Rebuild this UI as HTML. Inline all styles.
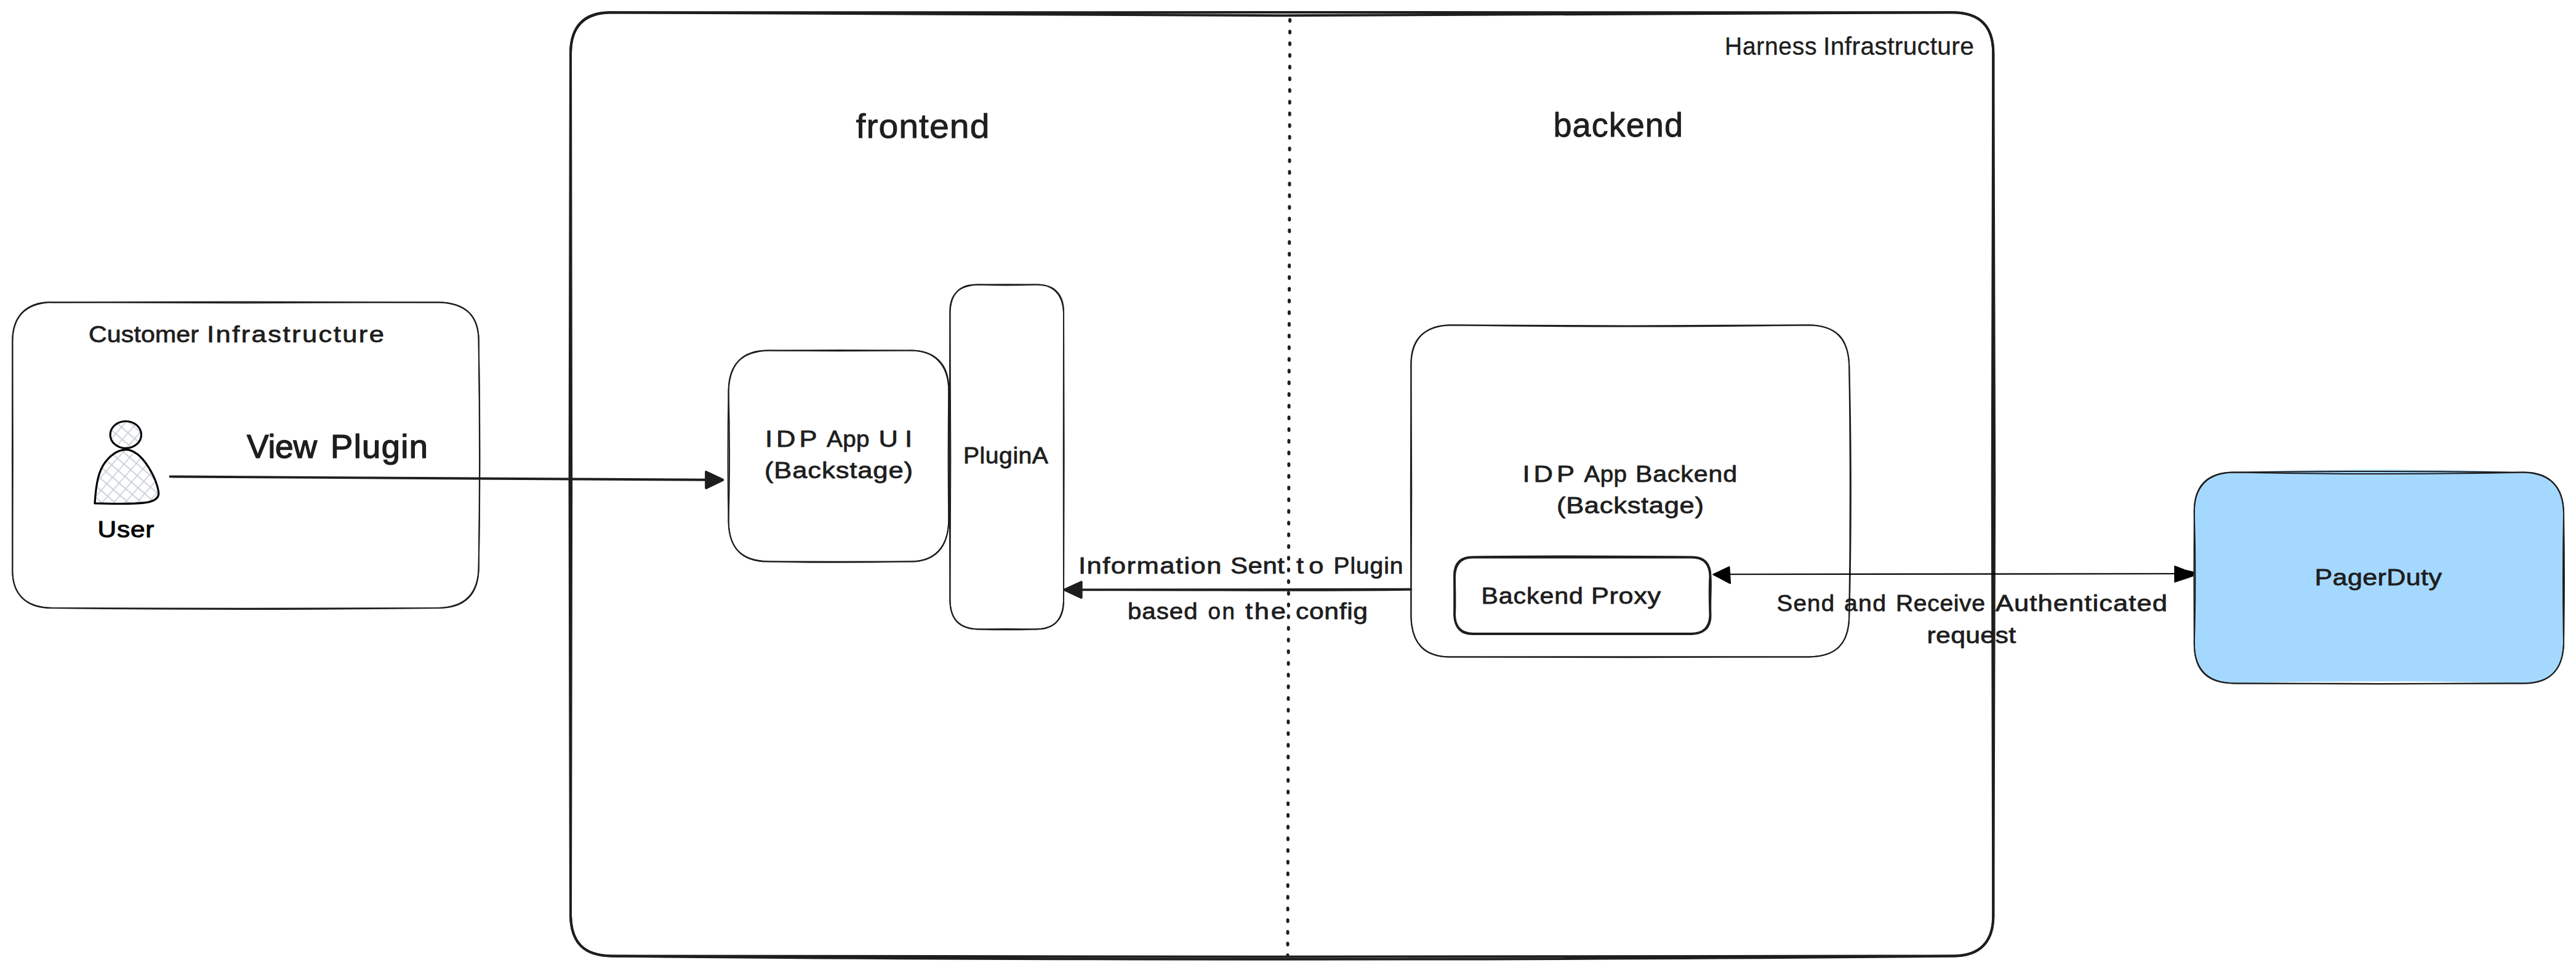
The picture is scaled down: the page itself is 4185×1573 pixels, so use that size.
<!DOCTYPE html>
<html lang="en">
<head>
<meta charset="utf-8">
<title>IDP plugin architecture</title>
<style>
html,body{margin:0;padding:0;background:#fff;}
body{width:4185px;height:1573px;overflow:hidden;font-family:"Liberation Sans",sans-serif;}
svg{display:block;position:absolute;left:0;top:0;}
text{font-family:"Liberation Sans",sans-serif;stroke-linejoin:round;}
</style>
</head>
<body>
<svg width="4185" height="1573" viewBox="0 0 4185 1573">
<rect width="4185" height="1573" fill="#ffffff"/>
<path d="M85.9 491.2C273.8 490.1 524.2 490.1 712.1 491.2C755.7 491.4 779.2 512.9 777.7 556.8C779.8 666.5 779.8 812.7 777.7 922.4C777.7 966.4 754.7 988 712.1 988C524.2 990.4 273.8 990.4 85.9 988C42.6 989.1 18.8 965.4 20.3 922.4C19.8 812.7 19.8 666.5 20.3 556.8C18.8 514.2 42.9 489.6 85.9 491.2Z" fill="none" stroke="#1e1e1e" stroke-width="2" stroke-linejoin="round"/>
<path d="M85.9 491.2C273.8 492.5 524.2 492.5 712.1 491.2C757.6 492.9 778.3 513.5 777.7 556.8C779.3 666.5 779.3 812.7 777.7 922.4C776.5 964.4 755.9 986.4 712.1 988C524.2 989.1 273.8 989.1 85.9 988C41.1 987.1 18.6 966 20.3 922.4C21 812.7 21 666.5 20.3 556.8C20.1 514.3 42.2 491.7 85.9 491.2Z" fill="none" stroke="#1e1e1e" stroke-width="2" stroke-linejoin="round"/>
<path d="M992.6 20.3C1646.6 20 2518.7 20 3172.7 20.3C3215.9 20.4 3238 42.4 3238.3 85.9C3240.8 506.5 3240.8 1067.2 3238.3 1487.8C3238.6 1530.7 3215.5 1554.1 3172.7 1553.4C2518.7 1555.3 1646.6 1555.3 992.6 1553.4C948.4 1552.9 928 1531.5 927 1487.8C925.1 1067.2 925.1 506.5 927 85.9C927.7 42.1 949.1 19.6 992.6 20.3Z" fill="none" stroke="#1e1e1e" stroke-width="4" stroke-linejoin="round"/>
<path d="M992.6 20.3C1646.6 26.8 2518.7 26.8 3172.7 20.3C3216.7 21 3238.3 42.6 3238.3 85.9C3236.2 506.5 3236.2 1067.2 3238.3 1487.8C3238.6 1530.7 3216.9 1553.6 3172.7 1553.4C2518.7 1560.5 1646.6 1560.5 992.6 1553.4C948.5 1552.5 927.7 1531.5 927 1487.8C928.5 1067.2 928.5 506.5 927 85.9C927.4 42.9 949.3 21.1 992.6 20.3Z" fill="none" stroke="#1e1e1e" stroke-width="4" stroke-linejoin="round"/>
<path d="M2095.6 31.7 L2092 1551.7" fill="none" stroke="#1e1e1e" stroke-width="5" stroke-linecap="round" stroke-dasharray="2.8 16.2"/>
<path d="M3630.4 767.6C3771.1 761.9 3958.7 761.9 4099.4 767.6C4143.1 767.6 4165 789.5 4165 833.2C4165.7 896.7 4165.7 981.3 4165 1044.8C4165 1088.5 4143.1 1110.4 4099.4 1110.4C3958.7 1106.1 3771.1 1106.1 3630.4 1110.4C3586.7 1110.4 3564.8 1088.5 3564.8 1044.8C3564.4 981.3 3564.4 896.7 3564.8 833.2C3564.8 789.5 3586.7 767.6 3630.4 767.6Z" fill="#a5d8ff" stroke="none"/>
<path d="M3630.4 767.6C3771.1 765.7 3958.7 765.7 4099.4 767.6C4142.3 769.1 4163.8 790.1 4165 833.2C4166.1 896.7 4166.1 981.3 4165 1044.8C4163.7 1087.7 4144.7 1109.5 4099.4 1110.4C3958.7 1111.7 3771.1 1111.7 3630.4 1110.4C3587.1 1110.3 3564.7 1088.5 3564.8 1044.8C3564.3 981.3 3564.3 896.7 3564.8 833.2C3563.8 790.5 3585.4 766.7 3630.4 767.6Z" fill="none" stroke="#1e1e1e" stroke-width="2" stroke-linejoin="round"/>
<path d="M3630.4 767.6C3771.1 770.8 3958.7 770.8 4099.4 767.6C4141.6 766.9 4164.7 790.8 4165 833.2C4163.8 896.7 4163.8 981.3 4165 1044.8C4164.6 1087.3 4142.4 1112 4099.4 1110.4C3958.7 1111.2 3771.1 1111.2 3630.4 1110.4C3585.3 1110.8 3564.4 1089 3564.8 1044.8C3566.7 981.3 3566.7 896.7 3564.8 833.2C3564.3 790.1 3586.7 768.1 3630.4 767.6Z" fill="none" stroke="#1e1e1e" stroke-width="2" stroke-linejoin="round"/>
<path d="M1249.2 569.6C1317.1 568.9 1407.7 568.9 1475.7 569.6C1517.7 568.2 1540.9 592.1 1541.3 635.2C1542.4 698.7 1542.4 783.4 1541.3 846.9C1540 889.2 1518.5 913.4 1475.7 912.5C1407.7 914.1 1317.1 914.1 1249.2 912.5C1204.2 913.4 1184.2 889.3 1183.6 846.9C1182.4 783.4 1182.4 698.7 1183.6 635.2C1183.7 591.3 1205.2 571.4 1249.2 569.6Z" fill="none" stroke="#1e1e1e" stroke-width="2" stroke-linejoin="round"/>
<path d="M1249.2 569.6C1317.1 570.4 1407.7 570.4 1475.7 569.6C1518 567.9 1542.9 591.1 1541.3 635.2C1540.5 698.7 1540.5 783.4 1541.3 846.9C1540.2 890 1518.9 914.1 1475.7 912.5C1407.7 912.8 1317.1 912.8 1249.2 912.5C1204.4 911.5 1183.9 890.8 1183.6 846.9C1185.3 783.4 1185.3 698.7 1183.6 635.2C1185.2 592.7 1204.9 568.5 1249.2 569.6Z" fill="none" stroke="#1e1e1e" stroke-width="2" stroke-linejoin="round"/>
<path d="M1589.4 462.6C1617.2 462.1 1654.2 462.1 1682 462.6C1712.3 461.7 1726.9 479.3 1728 508.6C1728.8 648.9 1728.8 836.1 1728 976.4C1728.2 1007.7 1712.8 1022 1682 1022.4C1654.2 1023.5 1617.2 1023.5 1589.4 1022.4C1559.5 1022.6 1544.3 1007.6 1543.4 976.4C1542.2 836.1 1542.2 648.9 1543.4 508.6C1544.5 477.7 1557.6 461.5 1589.4 462.6Z" fill="none" stroke="#1e1e1e" stroke-width="2" stroke-linejoin="round"/>
<path d="M1589.4 462.6C1617.2 463.7 1654.2 463.7 1682 462.6C1713.4 461.5 1728.5 478.3 1728 508.6C1727.6 648.9 1727.6 836.1 1728 976.4C1726.6 1008 1711.2 1023.6 1682 1022.4C1654.2 1022 1617.2 1022 1589.4 1022.4C1559.8 1021.5 1544.1 1007.8 1543.4 976.4C1544.6 836.1 1544.6 648.9 1543.4 508.6C1542.2 478.5 1557.5 463.9 1589.4 462.6Z" fill="none" stroke="#1e1e1e" stroke-width="2" stroke-linejoin="round"/>
<path d="M2358 528.2C2532.2 529.8 2764.4 529.8 2938.6 528.2C2981.4 528.2 3003 551.2 3004.2 593.8C3007.7 716.2 3007.7 879.4 3004.2 1001.8C3003.2 1045.7 2983.9 1067 2938.6 1067.4C2764.4 1068.5 2532.2 1068.5 2358 1067.4C2316 1068.2 2292.6 1046 2292.4 1001.8C2291.6 879.4 2291.6 716.2 2292.4 593.8C2292.7 549.6 2316.1 527.9 2358 528.2Z" fill="none" stroke="#1e1e1e" stroke-width="2" stroke-linejoin="round"/>
<path d="M2358 528.2C2532.2 531.1 2764.4 531.1 2938.6 528.2C2984.1 529.5 3002.5 549.2 3004.2 593.8C3006.1 716.2 3006.1 879.4 3004.2 1001.8C3004.1 1046.7 2981.2 1067.8 2938.6 1067.4C2764.4 1067.1 2532.2 1067.1 2358 1067.4C2313.8 1068.4 2293.9 1046.5 2292.4 1001.8C2293.5 879.4 2293.5 716.2 2292.4 593.8C2291.3 551 2314 529.4 2358 528.2Z" fill="none" stroke="#1e1e1e" stroke-width="2" stroke-linejoin="round"/>
<path d="M2394 905.5C2498.9 903.7 2606.1 904.3 2747.5 905.5M2394 905.5C2489.4 906.4 2587 906.5 2747.5 905.5M2747.5 905.5 C2768.4 905.2 2778.4 915.2 2778.5 936.5M2747.5 905.5 C2768.7 905.1 2778.1 916.9 2778.5 936.5M2778.5 936.5C2779.9 953.8 2777.5 970.9 2778.5 999M2778.5 936.5C2777.5 952 2777.4 967.7 2778.5 999M2778.5 999 C2779.1 1020.6 2768 1029.3 2747.5 1030M2778.5 999 C2778.2 1018.7 2767.6 1030.3 2747.5 1030M2747.5 1030C2632.9 1029.5 2517.4 1029.5 2394 1030M2747.5 1030C2669.8 1030.3 2592.6 1030.3 2394 1030M2394 1030 C2372.8 1029.8 2363.8 1019 2363 999M2394 1030 C2373.9 1030.9 2363.7 1019.6 2363 999M2363 999C2364 979.6 2363.2 963.7 2363 936.5M2363 999C2363.3 983.3 2363.2 967.5 2363 936.5M2363 936.5 C2362.5 915.1 2373.2 904.8 2394 905.5M2363 936.5 C2363.8 916.8 2373.5 904.6 2394 905.5" fill="none" stroke="#1e1e1e" stroke-width="3.9" stroke-linecap="round" stroke-linejoin="round"/>
<path d="M276.5 774.4C509.8 777.9 741.2 776.9 1150 779.8M276.5 774.4C485 776.5 695.3 778.1 1150 779.8" fill="none" stroke="#1e1e1e" stroke-width="3.9" stroke-linecap="round"/>
<path d="M1174.2 779.9 L1147.2 767 L1147.2 793 Z" fill="#1e1e1e" stroke="#1e1e1e" stroke-width="4.1" stroke-linejoin="round"/>
<path d="M2292 957.8C2128.6 960.2 1964.5 957.9 1752 958.4M2292 957.8C2100.9 958.1 1910.6 957.5 1752 958.4" fill="none" stroke="#1e1e1e" stroke-width="3.9" stroke-linecap="round"/>
<path d="M1729.8 958.4 L1756.6 946 L1756.6 970.9 Z" fill="#1e1e1e" stroke="#1e1e1e" stroke-width="4.1" stroke-linejoin="round"/>
<path d="M2805 933.2C2962.5 935.1 3125.4 933.8 3540 932.3M2805 933.2C3020.7 933 3235.8 934.2 3540 932.3" fill="none" stroke="#000" stroke-width="2.1" stroke-linecap="round"/>
<path d="M2783.4 933.5 L2809.4 921.3 L2811 948 Z" fill="#000" stroke="#000" stroke-width="2.1" stroke-linejoin="round"/>
<path d="M3533.3 920.3 L3549.6 926.6 L3562.8 929.8 L3562.4 935.8 L3533.3 945.6 Z" fill="#000" stroke="#000" stroke-width="2.1" stroke-linejoin="round"/>
<defs>
<pattern id="hatch" width="14.2" height="14.2" patternUnits="userSpaceOnUse" patternTransform="rotate(41 204 770)">
<path d="M0 7.1H14.2M7.1 0V14.2" stroke="#c8cfd7" stroke-width="1.7" fill="none"/>
</pattern>
</defs>
<ellipse cx="204.3" cy="706.4" rx="25.2" ry="21.9" fill="url(#hatch)" stroke="#000" stroke-width="3.2"/>
<path d="M154 817.9 C156 785.5 160 763.5 173 748.5 C183 736.5 193 731 204.3 730.6 C219 731 231.5 743.5 241.5 759.5 C249.5 772.5 256.3 788.5 257.7 800.5 C258.3 810.5 249.5 814.8 237.5 816.6 C217.5 819.3 180 818.7 154 817.9 Z" fill="url(#hatch)" stroke="#000" stroke-width="3.2" stroke-linejoin="round"/>

<g>
<g font-size="37.5" fill="#1e1e1e" stroke="#1e1e1e" stroke-width="0.8"><text transform="translate(144 555.6) scale(1.096 1)" textLength="163.32" lengthAdjust="spacing">Customer</text> <text transform="translate(336 555.6) scale(1.16 1)" textLength="248.28" lengthAdjust="spacing">Infrastructure</text></g>
<g font-size="53" fill="#1e1e1e" stroke="#1e1e1e" stroke-width="1.4"><text transform="translate(401 744) scale(1.009 1)" textLength="112.98" lengthAdjust="spacing">View</text> <text transform="translate(537 744) scale(1.025 1)" textLength="154.15" lengthAdjust="spacing">Plugin</text></g>
<g font-size="37.5" fill="#000" stroke="#000" stroke-width="1"><text transform="translate(158.5 872.5) scale(1.132 1)" textLength="81.27" lengthAdjust="spacing">User</text></g>
<g font-size="37.5" fill="#1e1e1e" stroke="#1e1e1e" stroke-width="0.8"><text transform="translate(1243 725.7) scale(1.16 1)" textLength="72.84" lengthAdjust="spacing">IDP</text> <text transform="translate(1343 725.7) scale(1.03 1)" textLength="67.48" lengthAdjust="spacing">App</text> <text transform="translate(1427.5 725.7) scale(1.16 1)" textLength="46.98" lengthAdjust="spacing">UI</text></g>
<g font-size="37.5" fill="#1e1e1e" stroke="#1e1e1e" stroke-width="0.8"><text transform="translate(1242 777) scale(1.16 1)" textLength="207.76" lengthAdjust="spacing">(Backstage)</text></g>
<g font-size="37.5" fill="#1e1e1e" stroke="#1e1e1e" stroke-width="0.8"><text transform="translate(1565 753.4) scale(1.044 1)" textLength="132.18" lengthAdjust="spacing">PluginA</text></g>
<g font-size="37.5" fill="#1e1e1e" stroke="#1e1e1e" stroke-width="0.8"><text transform="translate(2473.5 783) scale(1.16 1)" textLength="72.84" lengthAdjust="spacing">IDP</text> <text transform="translate(2573.5 783) scale(1.027 1)" textLength="67.67" lengthAdjust="spacing">App</text> <text transform="translate(2657 783) scale(1.096 1)" textLength="150.55" lengthAdjust="spacing">Backend</text></g>
<g font-size="37.5" fill="#1e1e1e" stroke="#1e1e1e" stroke-width="0.8"><text transform="translate(2529 834.4) scale(1.16 1)" textLength="206.03" lengthAdjust="spacing">(Backstage)</text></g>
<g font-size="37.5" fill="#1e1e1e" stroke="#1e1e1e" stroke-width="0.8"><text transform="translate(2406.5 980.8) scale(1.097 1)" textLength="150.87" lengthAdjust="spacing">Backend</text> <text transform="translate(2585 980.8) scale(1.152 1)" textLength="98.09" lengthAdjust="spacing">Proxy</text></g>
<g font-size="37.5" fill="#1e1e1e" stroke="#1e1e1e" stroke-width="0.8"><text transform="translate(1752 932) scale(1.16 1)" textLength="200.43" lengthAdjust="spacing">Information</text> <text transform="translate(1999 932) scale(1.12 1)" textLength="78.57" lengthAdjust="spacing">Sent</text> <text transform="translate(2106 932) scale(1.16 1)" textLength="38.36" lengthAdjust="spacing">to</text> <text transform="translate(2166.5 932) scale(1.04 1)" textLength="108.65" lengthAdjust="spacing">Plugin</text></g>
<g font-size="37.5" fill="#1e1e1e" stroke="#1e1e1e" stroke-width="0.8"><text transform="translate(1832 1006) scale(1.072 1)" textLength="105.88" lengthAdjust="spacing">based</text> <text transform="translate(1962.5 1006) scale(0.981 1)" textLength="44.34" lengthAdjust="spacing">on</text> <text transform="translate(2023 1006) scale(1.16 1)" textLength="56.9" lengthAdjust="spacing">the</text> <text transform="translate(2105 1006) scale(1.139 1)" textLength="102.72" lengthAdjust="spacing">config</text></g>
<g font-size="37.5" fill="#1e1e1e" stroke="#1e1e1e" stroke-width="0.8"><text transform="translate(2886.5 993) scale(1.024 1)" textLength="91.31" lengthAdjust="spacing">Send</text> <text transform="translate(2996 993) scale(1.045 1)" textLength="65.07" lengthAdjust="spacing">and</text> <text transform="translate(3080 993) scale(1.042 1)" textLength="139.16" lengthAdjust="spacing">Receive</text> <text transform="translate(3242 993) scale(1.16 1)" textLength="240.52" lengthAdjust="spacing">Authenticated</text></g>
<g font-size="37.5" fill="#1e1e1e" stroke="#1e1e1e" stroke-width="0.8"><text transform="translate(3130.5 1044.6) scale(1.139 1)" textLength="126.87" lengthAdjust="spacing">request</text></g>
<g font-size="37.5" fill="#1e1e1e" stroke="#1e1e1e" stroke-width="0.8"><text transform="translate(3760.5 950.6) scale(1.147 1)" textLength="180.03" lengthAdjust="spacing">PagerDuty</text></g>
<g font-size="55" fill="#1e1e1e" stroke="#1e1e1e" stroke-width="0.9"><text transform="translate(1390.5 223.9) scale(1.04 1)" textLength="208.65" lengthAdjust="spacing">frontend</text></g>
<g font-size="55" fill="#1e1e1e" stroke="#1e1e1e" stroke-width="0.9"><text transform="translate(2523.5 221.8) scale(0.982 1)" textLength="214.36" lengthAdjust="spacing">backend</text></g>
<g font-size="41.5" fill="#1e1e1e" stroke="#1e1e1e" stroke-width="0.4"><text transform="translate(2802 88.9) scale(0.94 1)" textLength="159.04" lengthAdjust="spacing">Harness</text> <text transform="translate(2962 88.9) scale(0.982 1)" textLength="249.49" lengthAdjust="spacing">Infrastructure</text></g>
</g>
</svg>
</body>
</html>
